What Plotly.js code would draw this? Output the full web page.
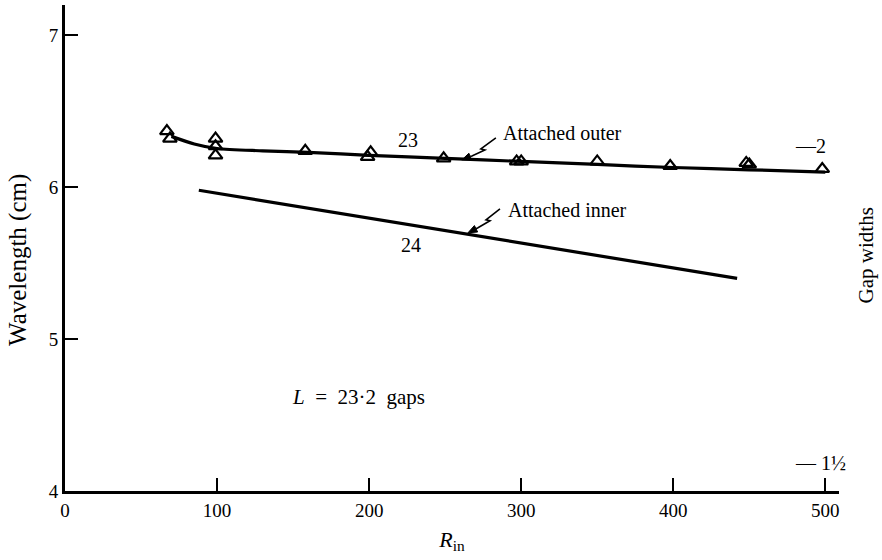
<!DOCTYPE html>
<html>
<head>
<meta charset="utf-8">
<script src="https://cdn.plot.ly/plotly-3.0.1.min.js"></script>
<style>
  html, body { margin: 0; padding: 0; background: #fff; }
  #chart { width: 882px; height: 560px; }
</style>
</head>
<body>
<div id="chart"></div>
<script>
// Measured wavelengths (triangles) for the attached outer configuration
const outerPointsR = [67, 69, 99, 99, 99, 158, 199, 201, 249, 297, 300, 350, 398, 448, 450, 498];
const outerPointsW = [6.37, 6.32, 6.32, 6.27, 6.21, 6.24, 6.20, 6.23, 6.19, 6.17, 6.17, 6.17, 6.14, 6.16, 6.15, 6.12];

// Fitted curve through the attached outer points
const outerCurveR = [70, 85, 100, 130, 160, 200, 250, 300, 350, 400, 450, 500];
const outerCurveW = [6.335, 6.285, 6.255, 6.24, 6.23, 6.21, 6.19, 6.17, 6.15, 6.13, 6.115, 6.10];

// Straight line for the attached inner configuration
const innerLineR = [88, 442];
const innerLineW = [5.98, 5.40];

const xTicks = [0, 100, 200, 300, 400, 500];
const yTicks = [4, 5, 6, 7];

const serif = 'Liberation Serif, Times New Roman, serif';

const traces = [
  {
    x: outerCurveR, y: outerCurveW, type: 'scatter', mode: 'lines',
    line: { color: '#000', width: 3.2, shape: 'spline', smoothing: 0.8 },
    hoverinfo: 'skip'
  },
  {
    x: innerLineR, y: innerLineW, type: 'scatter', mode: 'lines',
    line: { color: '#000', width: 3.2 },
    hoverinfo: 'skip'
  },
  {
    x: outerPointsR, y: outerPointsW, type: 'scatter', mode: 'markers',
    marker: { symbol: 'triangle-up-open', size: 12, color: '#000', line: { width: 2.2, color: '#000' } }
  }
];

// Zig-zag leader ending in a filled arrowhead; tip given in data units,
// the bolt itself drawn in pixels relative to that tip (y pointing up).
function boltShapes(tipX, tipY, pts) {
  const common = {
    xref: 'x', yref: 'y', xsizemode: 'pixel', ysizemode: 'pixel',
    xanchor: tipX, yanchor: tipY
  };
  const last = pts[pts.length - 1];
  const len = Math.hypot(last[0], last[1]);
  const ux = last[0] / len, uy = last[1] / len;   // direction from tip back toward tail
  const head = 9, half = 3.6;
  const bx = ux * head, by = uy * head;
  const px = -uy * half, py = ux * half;
  const headPath = 'M0,0 L' + (bx + px).toFixed(2) + ',' + (by + py).toFixed(2) +
                   ' L' + (bx - px).toFixed(2) + ',' + (by - py).toFixed(2) + ' Z';
  const bodyPath = 'M' + pts.map(p => p[0] + ',' + p[1]).join(' L') + ' L' + bx.toFixed(2) + ',' + by.toFixed(2);
  return [
    Object.assign({ type: 'path', path: bodyPath, line: { color: '#000', width: 1.6 } }, common),
    Object.assign({ type: 'path', path: headPath, fillcolor: '#000', line: { color: '#000', width: 1 } }, common)
  ];
}

const outerTip = [261, 6.18];
const innerTip = [265, 5.70];

const annFont = { family: serif, size: 20, color: '#000' };

const layout = {
  width: 882, height: 560,
  margin: { l: 65, r: 43, t: 5, b: 69 },
  paper_bgcolor: '#fff', plot_bgcolor: '#fff',
  showlegend: false,
  font: { family: serif, color: '#000', size: 19 },
  xaxis: {
    range: [0, 509], tickvals: xTicks, ticktext: xTicks.map(String),
    ticks: 'inside', ticklen: 13, tickwidth: 2, tickcolor: '#000',
    showline: true, linewidth: 3, linecolor: '#000', showgrid: false, zeroline: false,
    tickfont: { family: serif, size: 19 },
    title: { text: '<i>R</i><sub>in</sub>', font: { family: serif, size: 22 }, standoff: 12 }
  },
  yaxis: {
    range: [4, 7.2], tickvals: yTicks, ticktext: yTicks.map(String),
    ticks: 'inside', ticklen: 13, tickwidth: 2, tickcolor: '#000',
    showline: true, linewidth: 3, linecolor: '#000', showgrid: false, zeroline: false,
    tickfont: { family: serif, size: 19 }
  },
  shapes: [].concat(
    boltShapes(outerTip[0], outerTip[1], [[34, 22], [19, 11], [23, 10], [10, 4]]),
    boltShapes(innerTip[0], innerTip[1], [[32, 24], [18, 13], [22, 12], [10, 5]])
  ),
  annotations: [
    // left axis title, set a little below the axis centre
    { x: -0.061, y: 0.475, xref: 'paper', yref: 'paper', xanchor: 'center', yanchor: 'middle',
      textangle: -90, showarrow: false,
      text: 'Wavelength (cm)', font: { family: serif, size: 25, color: '#000' } },
    { x: 287, y: 6.36, xanchor: 'left', yanchor: 'middle', showarrow: false, text: 'Attached outer', font: annFont },
    { x: 290, y: 5.85, xanchor: 'left', yanchor: 'middle', showarrow: false, text: 'Attached inner', font: annFont },
    { x: 225.7, y: 6.31, showarrow: false, text: '23', font: annFont },
    { x: 227.6, y: 5.62, showarrow: false, text: '24', font: annFont },
    { x: 148, y: 4.62, xanchor: 'left', showarrow: false,
      text: '<i>L</i>\u00a0\u00a0=\u00a0\u00a023·2\u00a0\u00a0gaps', font: { family: serif, size: 21, color: '#000' } },
    { x: 479, y: 6.27, xanchor: 'left', showarrow: false, text: '—2', font: annFont },
    { x: 479, y: 4.185, xanchor: 'left', showarrow: false, text: '—\u00a01½', font: annFont },
    // right-hand scale caption
    { x: 1.035, y: 0.485, xref: 'paper', yref: 'paper', xanchor: 'center', yanchor: 'middle',
      textangle: -90, showarrow: false,
      text: 'Gap widths', font: { family: serif, size: 21, color: '#000' } }
  ]
};

Plotly.newPlot('chart', traces, layout, { displayModeBar: false, staticPlot: true });
</script>
</body>
</html>
